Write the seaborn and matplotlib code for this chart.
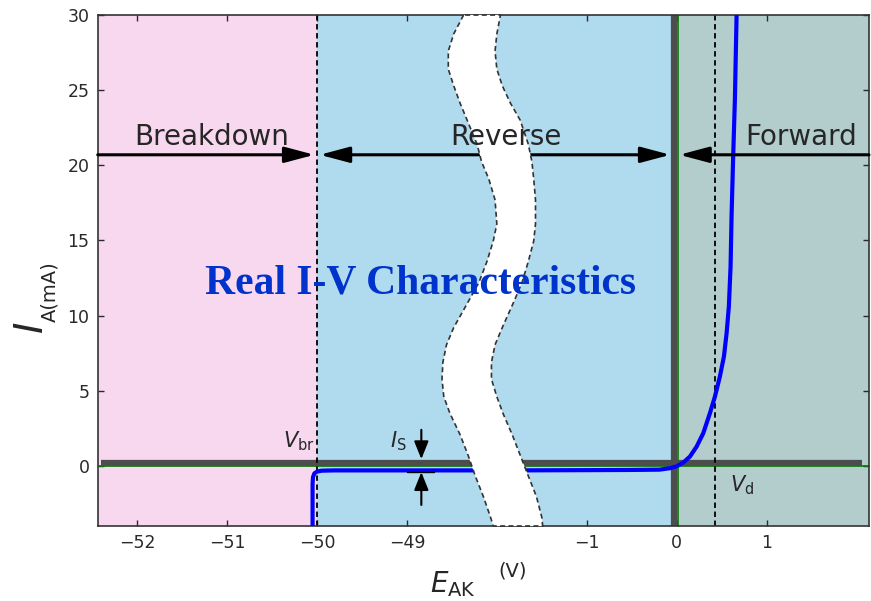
import numpy as np
import pandas as pd
import matplotlib.pyplot as plt
from matplotlib.patches import Polygon
import seaborn as sns

# ---- data ----
# x axis is broken: left block shows -52..-48 V, right block -1..2 V
tick_volts = [-52, -51, -50, -49, -1, 0, 1]
tick_labels = ['\u221252', '\u221251', '\u221250', '\u221249', '\u22121', '0', '1']
y_ticks = [0, 5, 10, 15, 20, 25, 30]

V_br = -50.0
V_d = 0.43

# breakdown knee and reverse leakage (mA), runs into the axis break
rev_v = [-50.05, -50.05, -50.045, -50.03, -50.0, -49.95, -49.8, -48.1]
rev_i = [-4.0, -1.2, -0.75, -0.5, -0.38, -0.32, -0.3, -0.3]

# leakage after the break and forward conduction (mA)
fwd_v = [-1.8, -0.86, -0.5, -0.19, -0.07, 0.0, 0.074, 0.148, 0.222, 0.296, 0.37,
         0.426, 0.481, 0.526, 0.556, 0.581, 0.6, 0.611, 0.629, 0.648, 0.667, 0.672]
fwd_i = [-0.3, -0.28, -0.27, -0.25, -0.15, -0.03, 0.22, 0.62, 1.28, 2.17, 3.5,
         4.61, 5.94, 7.27, 8.83, 10.6, 13.26, 16.59, 20.58, 24.35, 30.0, 31.0]

# wavy white band that marks the axis break (axis units)
band_i = [30, 28.74, 27.6, 26.4, 25.3, 24.15, 23.0, 21.4, 20.24, 19.1, 17.7, 16.1, 14.96, 13.6,
          12.2, 10.8, 9.2, 8.06, 6.9, 5.77, 4.6, 3.47, 2.09, 0.71, -0.67, -2.04, -3.42, -4]
band_left = [3.63, 3.52, 3.46, 3.46, 3.52, 3.59, 3.67, 3.78, 3.83, 3.91, 3.98, 4.0, 3.96, 3.89,
             3.80, 3.67, 3.52, 3.44, 3.40, 3.39, 3.41, 3.48, 3.59, 3.68, 3.76, 3.85, 3.93, 3.96]
band_right = [4.04, 4.0, 3.98, 4.0, 4.06, 4.15, 4.26, 4.35, 4.39, 4.41, 4.43, 4.43, 4.41, 4.35,
              4.28, 4.18, 4.06, 3.98, 3.94, 3.94, 4.0, 4.07, 4.17, 4.26, 4.35, 4.44, 4.5, 4.51]


def to_axis(v):
    # map volts onto the broken axis
    v = np.asarray(v, dtype=float)
    return np.where(v < -25, v + 52, v + 6)


sns.set_style('ticks')
plt.rcParams['font.family'] = ['DejaVu Sans']

fig = plt.figure(figsize=(8.71, 6.01), dpi=100)
ax = fig.add_axes([0.1122, 0.1248, 0.8855, 0.8502])

x_lo, x_hi = float(to_axis(-52.44)), float(to_axis(2.14))
u_br, u_0, u_d = float(to_axis(V_br)), float(to_axis(0)), float(to_axis(V_d))

# operating regions
ax.axvspan(x_lo, u_br, color='#f7d8ef', lw=0, zorder=0)
ax.axvspan(u_br, u_0, color='#b0daee', lw=0, zorder=0)
ax.axvspan(u_0, x_hi, color='#b3cccc', lw=0, zorder=0)

# axes through the origin
ax.axhline(0, color='green', lw=1.2, zorder=1)
ax.axvline(u_0 + 0.01, color='green', lw=1.2, zorder=1)
ax.plot([x_lo + 0.04, x_hi - 0.08], [0.17, 0.17], color='#4d4d4d', lw=4.5, zorder=2,
        solid_capstyle='butt')
ax.axvline(u_0 - 0.03, color='#4d4d4d', lw=4.5, zorder=2)

# V_br and V_d markers
ax.axvline(u_br, color='black', ls=(0, (3, 2)), lw=1.3, zorder=2.5)
ax.axvline(u_d, color='black', ls=(0, (3, 2)), lw=1.3, zorder=2.5)

# diode curve
rev = pd.DataFrame({'u': to_axis(rev_v), 'I': rev_i})
fwd = pd.DataFrame({'u': to_axis(fwd_v), 'I': fwd_i})
sns.lineplot(data=rev, x='u', y='I', sort=False, estimator=None, color='blue', lw=3, ax=ax)
sns.lineplot(data=fwd, x='u', y='I', sort=False, estimator=None, color='blue', lw=3, ax=ax)
for ln in ax.lines[-2:]:
    ln.set_zorder(3)

# region arrows
arrow_y = 20.7
big = dict(color='black', lw=2.2, shrinkA=0, shrinkB=0, mutation_scale=20)
head = 'head_length=0.9,head_width=0.24'
ax.annotate('', xy=(u_br - 0.03, arrow_y), xytext=(x_lo, arrow_y),
            arrowprops=dict(arrowstyle='-|>,' + head, **big), zorder=4)
ax.annotate('', xy=(u_0 - 0.07, arrow_y), xytext=(u_br + 0.03, arrow_y),
            arrowprops=dict(arrowstyle='<|-|>,' + head, **big), zorder=4)
ax.annotate('', xy=(u_0 + 0.03, arrow_y), xytext=(x_hi, arrow_y),
            arrowprops=dict(arrowstyle='-|>,' + head, **big), zorder=4)

# I_S arrows
small = dict(arrowstyle='-|>,head_length=0.72,head_width=0.29', color='black', lw=1.5,
             shrinkA=0, shrinkB=0, mutation_scale=15)
is_u = 3.16
ax.annotate('', xy=(is_u, 0.45), xytext=(is_u, 2.4), arrowprops=small, zorder=4)
ax.annotate('', xy=(is_u, -0.42), xytext=(is_u, -2.6), arrowprops=small, zorder=4)
ax.plot([3.0, 3.3], [-0.4, -0.4], color='black', lw=1, zorder=4)

# axis-break band
band_xy = np.column_stack([band_left + band_right[::-1], band_i + band_i[::-1]])
ax.add_patch(Polygon(band_xy, closed=True, facecolor='white', edgecolor='#333333',
                     ls=(0, (3, 2)), lw=1.2, zorder=10, clip_on=False))

# labels inside the plot
ax.text(0.83, 21.36, 'Breakdown', fontsize=20, ha='center', va='baseline', zorder=11)
ax.text(4.1, 21.36, 'Reverse', fontsize=20, ha='center', va='baseline', zorder=11)
ax.text(7.39, 21.36, 'Forward', fontsize=20, ha='center', va='baseline', zorder=11)
ax.text(3.15, 11.5, 'Real I-V Characteristics', fontsize=30, fontweight='bold',
        family='Liberation Serif', color='#0033cc', ha='center', va='baseline', zorder=11)
ax.text(u_br - 0.03, 1.2, r'$V_{\mathrm{br}}$', fontsize=15, ha='right', va='baseline', zorder=11)
ax.text(2.81, 1.2, r'$I_{\mathrm{S}}$', fontsize=15, ha='left', va='baseline', zorder=11)
ax.text(6.59, -1.73, r'$V_{\mathrm{d}}$', fontsize=15, ha='left', va='baseline', zorder=11)

ax.set_xlim(x_lo, x_hi)
ax.set_ylim(-4, 30)
ax.set_xticks(to_axis(tick_volts))
ax.set_xticklabels(tick_labels)
ax.set_yticks(y_ticks)
ax.set_xlabel('')
ax.set_ylabel('')
ax.tick_params(direction='in', length=4, width=1, top=True, right=True,
               labelsize=12.5, colors='#2a2a2a', pad=6)
for s in ax.spines.values():
    s.set_color('#333333')
    s.set_linewidth(1.2)

# axis titles
fig.text(0.0367, 0.454, r'$I$', fontsize=28, rotation=90, ha='center', va='center')
fig.text(0.0574, 0.514, 'A(mA)', fontsize=14, rotation=90, ha='center', va='center')
fig.text(0.4937, 0.015, r'$E_{\mathrm{AK}}$', fontsize=20, ha='left', va='baseline')
fig.text(0.5884, 0.050, '(V)', fontsize=14, ha='center', va='center')

fig.savefig('out.png', dpi=100)
